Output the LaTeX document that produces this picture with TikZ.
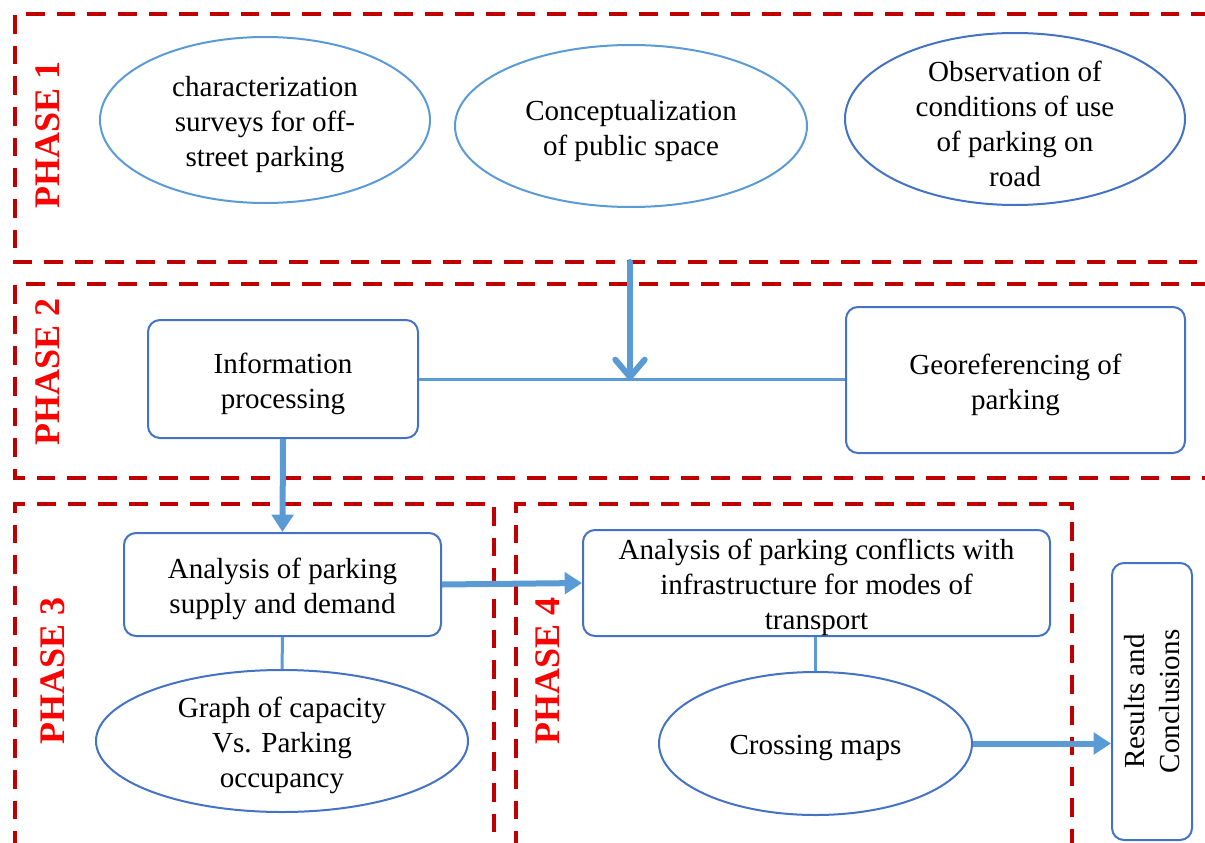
\documentclass[tikz,border=0pt]{standalone}
\usepackage{fontspec}
\setmainfont{Liberation Serif}
\usetikzlibrary{shapes.geometric,arrows.meta,calc}
\definecolor{lblue}{HTML}{5B9BD5}
\definecolor{dblue}{HTML}{4472C4}
\definecolor{dred}{HTML}{C00000}
\definecolor{pred}{HTML}{FF0000}
\begin{document}
\begin{tikzpicture}[x=0.75pt,y=-0.75pt,
  phasebox/.style={draw=dred,line width=2.4pt,dash pattern=on 14pt off 9pt},
  phaselabel/.style={text=pred,font=\fontsize{27}{30}\selectfont\bfseries,rotate=90,inner sep=0pt},
  ell/.style={ellipse,draw=#1,line width=1.5pt,inner sep=0pt},
  rbox/.style={rectangle,rounded corners=9pt,draw=dblue,line width=1.5pt,inner sep=0pt},
  txtbase/.style={align=center,font=\fontsize{21.8}{26.25}\selectfont,inner sep=0pt},
  txt/.style={txtbase,yshift=-3.5pt},
  conn/.style={draw=lblue,line width=2.25pt},
  bigarrow/.style={draw=lblue,line width=4.5pt,-{Triangle[length=13pt,width=16pt]}},
  barbarrow/.style={draw=lblue,line width=4.5pt,line cap=round,-{Straight Barb[length=13pt,width=22pt,round]}}
]
\useasboundingbox (0,0) rectangle (1205,842);

% phase frames
\draw[phasebox] (1210,14) -- (15,14) -- (15,262) -- (1210,262);
\draw[phasebox] (1210,284) -- (15,284) -- (15,478) -- (1210,478);
\draw[phasebox] (15,850) -- (15,504) -- (494,504) -- (494,850);
\draw[phasebox] (516,850) -- (516,504) -- (1072,504) -- (1072,850);

% phase labels
\node[phaselabel] (ph1) at (48,135) {PHASE 1};
\node[phaselabel] (ph2) at (48,372) {PHASE 2};
\node[phaselabel] (ph3) at (53,671) {PHASE 3};
\node[phaselabel] (ph4) at (548,671) {PHASE 4};

% phase 1
\node[ell=lblue,minimum width=247.5pt,minimum height=124.5pt] (e1) at (265,120) {};
\node[txt] (t1) at (e1) {characterization\\surveys for off-\\street parking};
\node[ell=lblue,minimum width=264pt,minimum height=121.5pt] (e2) at (631,126) {};
\node[txt] (t2) at (e2) {Conceptualization\\of public space};
\node[ell=dblue,minimum width=255pt,minimum height=129pt] (e3) at (1015,119) {};
\node[txt] (t3) at (e3) {Observation of\\conditions of use\\of parking on\\road};

% phase 2
\node[rbox,minimum width=202.5pt,minimum height=88.5pt] (info) at (283,379) {};
\node[txt] (tinfo) at (info) {Information\\processing};
\node[rbox,minimum width=254.25pt,minimum height=109.5pt] (geo) at (1015.5,380) {};
\node[txt] (tgeo) at (geo) {Georeferencing of\\parking};
\coordinate (p1b) at (630,262);
\coordinate (mid) at (630,380);
\draw[conn] (info.east) -- (info.east -| geo.west);
\draw[barbarrow] (p1b) -- (mid);

% phase 3
\node[rbox,minimum width=237.75pt,minimum height=77.25pt] (ana) at (282.5,584.5) {};
\node[txt] (tana) at (ana) {Analysis of parking\\supply and demand};
\node[ell=dblue,minimum width=279pt,minimum height=106.5pt] (graph) at (282,741) {};
\node[txt] (tgraph) at (graph) {Graph of capacity\\Vs. Parking\\occupancy};
\draw[bigarrow] (info.south) -- (ana.north);
\draw[conn] (ana.south) -- (graph.north);

% phase 4
\node[rbox,minimum width=350.25pt,minimum height=79.5pt] (con) at (816.5,583) {};
\node[txt] (tcon) at (con) {Analysis of parking conflicts with\\infrastructure for modes of\\transport};
\node[ell=dblue,minimum width=234.75pt,minimum height=107.25pt] (cross) at (815.5,743.5) {};
\node[txt] (tcross) at (cross) {Crossing maps};
\draw[bigarrow] (ana.east) -- (con.west);
\draw[conn] (con.south -| cross.north) -- (cross.north);

% results
\node[rbox,minimum width=60pt,minimum height=207.75pt] (res) at (1152,701.5) {};
\node[txtbase,rotate=90] (tres) at (res) {Results and\\Conclusions};
\draw[bigarrow] (cross.east) -- (res.west |- cross.east);
\end{tikzpicture}
\end{document}
